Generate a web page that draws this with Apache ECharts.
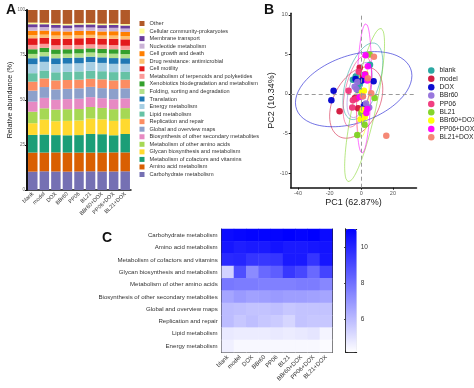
<!DOCTYPE html>
<html><head><meta charset="utf-8">
<script src="https://cdn.jsdelivr.net/npm/echarts@6/dist/echarts.min.js"></script>
<style>html,body{margin:0;padding:0;background:#fff}#c{width:474px;height:388px}</style>
</head><body><div id="c"></div>
<script>
// ---------- shared ----------
const groups = ['blank','model','DOX','BBr60','PP06','BL21','BBr60+DOX','PP06+DOX','BL21+DOX'];

// ---------- Panel A: stacked relative abundance (%) bottom -> top ----------
const pathways = ['Carbohydrate metabolism','Amino acid metabolism','Metabolism of cofactors and vitamins',
  'Glycan biosynthesis and metabolism','Metabolism of other amino acids','Biosynthesis of other secondary metabolites',
  'Global and overview maps','Replication and repair','Lipid metabolism','Energy metabolism','Translation',
  'Folding, sorting and degradation','Xenobiotics biodegradation and metabolism','Metabolism of terpenoids and polyketides',
  'Cell motility','Drug resistance: antimicrobial','Cell growth and death','Nucleotide metabolism','Membrane transport',
  'Cellular community-prokaryotes','Other'];
const pathwayColors = ['#7570B3','#D95F02','#1B9E77','#FFD92F','#A6D854','#E78AC3','#8DA0CB','#FC8D62','#66C2A5',
  '#A6CEE3','#1F78B4','#B2DF8A','#33A02C','#FB9A99','#E31A1C','#FDBF6F','#FF7F00','#CAB2D6','#6A3D9A','#FFFF99','#B15928'];
const abCarbohydrate = [10.2,10.4,10.3,10.2,10.3,10.4,10.3,10.3,10.4];
const abAminoAcid    = [10.6,10.4,10.6,10.6,10.5,10.4,10.5,10.6,10.5];
const abCofactors    = [9.8,10.0,9.6,9.6,9.7,10.3,10.2,9.5,10.2];
const abGlycan       = [6.5,8.3,7.7,8.0,8.1,8.6,8.3,8.0,8.4];
const abOtherAmino   = [6.4,6.3,6.5,6.5,6.4,6.4,6.3,6.5,6.0];
const abBiosynthesis = [5.6,5.8,5.4,5.6,5.7,5.5,5.4,5.5,5.4];
const abGlobal       = [6.1,6.0,5.8,5.7,5.8,5.7,5.6,5.7,5.6];
const abReplication  = [5.0,4.8,5.0,4.9,4.8,4.5,4.9,4.8,4.8];
const abLipid        = [4.7,4.4,4.5,4.5,4.6,4.4,4.5,4.6,4.3];
const abEnergy       = [5.0,4.8,4.6,4.6,4.5,4.9,4.6,4.6,4.5];
const abTranslation  = [3.3,3.1,3.2,3.2,3.2,3.0,3.1,3.2,3.1];
const abFolding      = [2.4,2.3,2.4,2.3,2.3,2.3,2.3,2.4,2.3];
const abXenobiotics  = [2.6,2.4,2.5,2.5,2.4,2.3,2.4,2.5,2.4];
const abTerpenoids   = [2.4,2.2,2.3,2.3,2.3,2.2,2.3,2.3,2.2];
const abMotility     = [3.7,3.4,3.6,3.5,3.7,3.6,3.4,3.5,3.6];
const abDrug         = [1.8,1.7,1.8,1.8,1.7,1.7,1.7,1.8,1.8];
const abGrowth       = [2.4,2.3,2.4,2.3,2.4,2.3,2.3,2.4,2.3];
const abNucleotide   = [1.9,1.9,1.9,1.8,1.9,1.8,1.9,1.9,1.9];
const abMembrane     = [1.7,1.6,1.6,1.6,1.6,1.7,1.6,1.6,1.7];
const abCellular     = [0.9,0.8,0.8,0.8,0.8,0.8,0.8,0.8,0.8];
const abOther        = [7.0,7.1,7.5,7.7,7.3,7.2,7.6,7.5,7.8];
const abundanceRows = [abCarbohydrate,abAminoAcid,abCofactors,abGlycan,abOtherAmino,abBiosynthesis,abGlobal,
  abReplication,abLipid,abEnergy,abTranslation,abFolding,abXenobiotics,abTerpenoids,abMotility,abDrug,abGrowth,
  abNucleotide,abMembrane,abCellular,abOther];
const abTicks = [0,25,50,75,100];

// ---------- Panel B: PCA ----------
const pcaBlank    = [[-5.3,1.8],[-3.5,2.2],[5.5,3.7],[-1,1.2],[2,2.4],[-2,0.5]];
const pcaModel    = [[-13.7,-2.2],[-1,3.3],[-2,-1.8],[-4,-0.5],[1,2.3],[3,-1.6]];
const pcaDOX      = [[-17.5,0.4],[-18.9,-0.8],[-3.6,1.9],[0.4,1.7],[7.8,1.6],[1.7,-1.4]];
const pcaBBr60    = [[-4.2,0.9],[-3,0.6],[-2.5,1.5],[5,-1.7],[1,-0.3],[3,-1.2]];
const pcaPP06     = [[-8,0.4],[-5.3,-0.8],[-5.7,-1.7],[-1.5,2.8],[2.5,2.5],[-3.2,-0.6]];
const pcaBL21     = [[5.3,5.0],[8.4,-0.5],[2.1,-3.9],[-2.5,-5.2],[0,-2.4],[1,-3.0]];
const pcaBBr60DOX = [[1.7,0.4],[0.4,0.2],[-0.4,-3.2],[2.1,-2.9],[1,-2.0]];
const pcaPP06DOX  = [[2.7,4.9],[4.2,3.5],[2.1,2.4],[3.8,1.7],[-1,-0.4],[3.8,-1.9],[3.2,-2.4]];
const pcaBL21DOX  = [[8,4.7],[15.8,-5.3],[6.3,0.1],[4.2,2.0],[1,-0.3]];
const pcaPoints = [pcaBlank,pcaModel,pcaDOX,pcaBBr60,pcaPP06,pcaBL21,pcaBBr60DOX,pcaPP06DOX,pcaBL21DOX];
const groupColors = ['#20A39E','#D2143A','#0000CD','#9370DB','#F0357A','#7ED321','#FFFF00','#FF00FF','#F4826F'];
// ellipse: centre, x half-extent, y half-extent, correlation (null = none drawn)
const ellCx  = [1.0,-3.2,-4.8,-1.0,-2.5,2.1,1.0,1.7,null];
const ellCy  = [1.6,-1.1,0.6,0.5,0.3,-1.4,-1.0,0.7,null];
const ellW   = [12.6,16.8,36.8,8.0,9.0,12.6,4.0,4.7,null];
const ellH   = [4.85,4.5,4.75,3.5,4.5,9.7,4.5,8.2,null];
const ellRho = [0.5,0.38,0.36,0.5,0.5,0.8,0.3,0.25,null];
const pc1Ticks = [-40,-20,0,20];
const pc2Ticks = [-10,-5,0,5,10];

// ---------- Panel C: heatmap ----------
const hmRows = ['Carbohydrate metabolism','Amino acid metabolism','Metabolism of cofactors and vitamins',
  'Glycan biosynthesis and metabolism','Metabolism of other amino acids','Biosynthesis of other secondary metabolites',
  'Global and overview maps','Replication and repair','Lipid metabolism','Energy metabolism'];
const hmCarbohydrate = [10.7,10.8,10.9,10.9,10.9,11.0,10.9,11.0,10.7];
const hmAminoAcid    = [10.4,10.2,10.3,10.3,10.5,10.3,10.3,10.4,10.5];
const hmCofactors    = [9.9,10.0,9.6,9.5,9.6,10.3,10.3,9.6,10.4];
const hmGlycan       = [5.4,8.9,7.3,8.2,8.5,9.5,9.1,8.2,9.2];
const hmOtherAmino   = [7.8,7.7,7.7,7.6,7.6,7.6,7.7,7.7,7.4];
const hmBiosynthesis = [6.6,6.9,6.7,6.8,6.9,6.8,6.8,6.7,6.6];
const hmGlobal       = [6.0,5.9,5.8,5.8,5.9,5.7,5.8,5.8,5.8];
const hmReplication  = [6.0,5.7,5.9,5.7,5.6,5.3,5.8,5.7,5.7];
const hmLipid        = [4.8,4.7,4.7,4.7,4.8,4.7,4.8,4.9,4.5];
const hmEnergy       = [4.6,4.4,4.4,4.4,4.4,4.4,4.4,4.4,4.3];
const hmValues = [hmCarbohydrate,hmAminoAcid,hmCofactors,hmGlycan,hmOtherAmino,hmBiosynthesis,hmGlobal,hmReplication,hmLipid,hmEnergy];
const hmMin = 4.2, hmMax = 11;
const cbTicks = [6,8,10];

// ---------- build ----------
const FONT = 'Liberation Sans, Arial, sans-serif';
const series = [];
pathways.forEach((p, i) => {
  series.push({ name: p, type: 'bar', stack: 'ab', xAxisIndex: 0, yAxisIndex: 0, barWidth: '82%',
    itemStyle: { color: pathwayColors[i] }, data: abundanceRows[i] });
});
// ellipses
groups.forEach((g, i) => {
  if (ellCx[i] === null) return;
  const d = Math.acos(ellRho[i]);
  const pts = [];
  for (let k = 0; k <= 120; k++) {
    const t = k / 120 * 2 * Math.PI;
    pts.push([ellCx[i] + ellW[i] * Math.cos(t), ellCy[i] + ellH[i] * Math.cos(t + d)]);
  }
  series.push({ name: g + ' ellipse', type: 'line', xAxisIndex: 1, yAxisIndex: 1, data: pts, showSymbol: false,
    symbol: 'none', silent: true, z: 1, lineStyle: { color: groupColors[i], width: 1, opacity: 0.55 } });
});
groups.forEach((g, i) => {
  const s = { name: g, type: 'scatter', xAxisIndex: 1, yAxisIndex: 1, data: pcaPoints[i], symbolSize: 6.5, z: 3,
    itemStyle: { color: groupColors[i], opacity: 0.95 } };
  if (i === 0) {
    s.markLine = { silent: true, symbol: ['none','none'], label: { show: false },
      lineStyle: { color: '#9a9a9a', type: [4,3], width: 1 }, data: [{ xAxis: 0 }, { yAxis: 0 }] };
  }
  series.push(s);
});
const heatData = [];
hmValues.forEach((row, r) => row.forEach((v, c) => heatData.push([c, r, v])));
const heatIndex = series.length;
series.push({ type: 'heatmap', xAxisIndex: 2, yAxisIndex: 2, data: heatData });

const frameLine = { show: true, lineStyle: { color: '#222', width: 1 } };
const option = {
  animation: false,
  textStyle: { fontFamily: FONT },
  title: [
    { text: 'A', left: 1, top: -2, textStyle: { fontSize: 14, fontWeight: 'bold', color: '#111', fontFamily: FONT } },
    { text: 'B', left: 259, top: -2, textStyle: { fontSize: 14, fontWeight: 'bold', color: '#111', fontFamily: FONT } },
    { text: 'C', left: 97, top: 226, textStyle: { fontSize: 14, fontWeight: 'bold', color: '#111', fontFamily: FONT } }
  ],
  legend: [
    { data: pathways.slice().reverse(), orient: 'vertical', left: 134.5, top: 15.5, itemWidth: 5, itemHeight: 5,
      itemGap: 1.55, selectedMode: false, icon: 'rect',
      textStyle: { fontSize: 5.6, lineHeight: 6, color: '#333', fontFamily: FONT } },
    { data: groups, orient: 'vertical', left: 423, top: 61.5, itemWidth: 6.5, itemHeight: 6.5, itemGap: 0.35,
      selectedMode: false, icon: 'circle',
      textStyle: { fontSize: 6.7, lineHeight: 8, color: '#222', fontFamily: FONT } }
  ],
  grid: [
    { left: 27, top: 10, width: 104, height: 180 },
    { left: 290.7, top: 13.3, width: 125.8, height: 174.4 },
    { left: 221.7, top: 229, width: 110.5, height: 123.3 },
    { left: 345.7, top: 229, width: 11, height: 123.3 }
  ],
  xAxis: [
    { type: 'category', gridIndex: 0, data: groups,
      axisLine: { lineStyle: { color: '#111', width: 1.5 } }, axisTick: { length: 2, alignWithLabel: true, lineStyle: { color: '#111' } },
      axisLabel: { rotate: 45, fontSize: 5.5, color: '#333', margin: 3, interval: 0 } },
    { type: 'value', gridIndex: 1, min: -44.6, max: 34.9, splitLine: { show: false },
      axisLine: { onZero: false, lineStyle: { color: '#111', width: 1.5 } },
      axisTick: { length: 2, customValues: pc1Ticks, lineStyle: { color: '#111' } },
      axisLabel: { customValues: pc1Ticks, fontSize: 5.5, color: '#555', margin: 3 },
      name: 'PC1 (62.87%)', nameLocation: 'middle', nameGap: 7, nameTextStyle: { fontSize: 9, color: '#222' } },
    { type: 'category', gridIndex: 2, data: groups, position: 'bottom',
      axisLine: frameLine, axisTick: { length: 2.5, alignWithLabel: true, lineStyle: { color: '#222' } },
      axisLabel: { rotate: 45, fontSize: 6, color: '#333', margin: 4, interval: 0 } },
    { type: 'category', gridIndex: 2, data: groups, position: 'top',
      axisLine: frameLine, axisTick: { show: false }, axisLabel: { show: false } },
    { type: 'value', gridIndex: 3, min: 0, max: 1, position: 'bottom', splitLine: { show: false },
      axisLine: frameLine, axisTick: { show: false }, axisLabel: { show: false } },
    { type: 'value', gridIndex: 3, min: 0, max: 1, position: 'top', splitLine: { show: false },
      axisLine: frameLine, axisTick: { show: false }, axisLabel: { show: false } }
  ],
  yAxis: [
    { type: 'value', gridIndex: 0, min: 0, max: 100, interval: 25, splitLine: { show: false },
      axisLine: { show: true, lineStyle: { color: '#111', width: 2 } },
      axisTick: { show: true, length: 2, lineStyle: { color: '#111' } },
      axisLabel: { fontSize: 4.5, color: '#666', margin: 2, customValues: abTicks },
      name: 'Relative abundance (%)', nameLocation: 'middle', nameGap: 11.5, nameTextStyle: { fontSize: 7.2, color: '#222' } },
    { type: 'value', gridIndex: 1, min: -11.86, max: 10.2, splitLine: { show: false },
      axisLine: { show: true, onZero: false, lineStyle: { color: '#111', width: 1.5 } },
      axisTick: { show: true, length: 2, customValues: pc2Ticks, lineStyle: { color: '#111' } },
      axisLabel: { customValues: pc2Ticks, fontSize: 5.5, color: '#555', margin: 3 },
      name: 'PC2 (10.34%)', nameLocation: 'middle', nameGap: 11, nameTextStyle: { fontSize: 9, color: '#222' } },
    { type: 'category', gridIndex: 2, data: hmRows, inverse: true,
      axisLine: frameLine, axisTick: { length: 3, lineStyle: { color: '#222' } },
      axisLabel: { fontSize: 6.1, color: '#333', margin: 4, interval: 0 } },
    { type: 'category', gridIndex: 2, data: hmRows, inverse: true, position: 'right',
      axisLine: frameLine, axisTick: { show: false }, axisLabel: { show: false } },
    { type: 'value', gridIndex: 3, min: hmMin, max: hmMax, position: 'right', splitLine: { show: false },
      axisLine: frameLine, axisTick: { show: true, inside: true, length: 1.5, customValues: cbTicks, lineStyle: { color: '#222' } },
      axisLabel: { customValues: cbTicks, fontSize: 6.5, color: '#333', margin: 4 } },
    { type: 'value', gridIndex: 3, min: hmMin, max: hmMax, position: 'left', splitLine: { show: false },
      axisLine: frameLine, axisTick: { show: true, inside: true, length: 1.5, customValues: cbTicks, lineStyle: { color: '#222' } },
      axisLabel: { show: false } }
  ],
  visualMap: {
    type: 'continuous', seriesIndex: heatIndex, min: hmMin, max: hmMax, calculable: false, orient: 'vertical',
    left: 345.7, top: 229, itemWidth: 11, itemHeight: 123.3, padding: 0, hoverLink: false,
    inRange: { color: ['#ffffff', '#0000ff'] }, textStyle: { fontSize: 0 }
  },
  series: series
};
const chart = echarts.init(document.getElementById('c'), null, { renderer: 'canvas' });
chart.setOption(option);
</script>
</body></html>
